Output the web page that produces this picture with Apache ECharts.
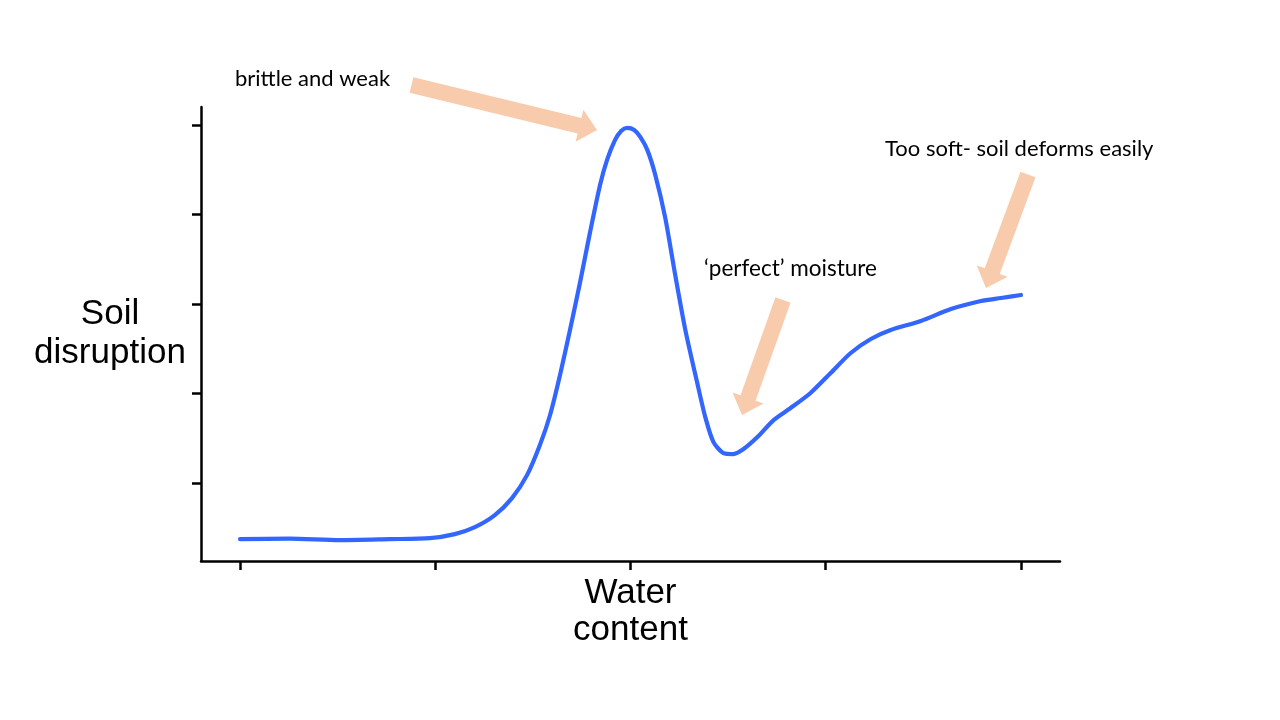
<!DOCTYPE html>
<html>
<head>
<meta charset="utf-8">
<script src="https://cdn.jsdelivr.net/npm/echarts@6/dist/echarts.min.js"></script>
<style>
html,body{margin:0;padding:0;background:#fff;}
#chart{width:1280px;height:720px;}
</style>
</head>
<body>
<div id="chart"></div>
<script>
// Water content (x) values of the curve
var waterContent = [0.00,0.253,0.510,0.766,0.972,1.100,1.203,1.305,1.393,1.470,1.536,1.588,1.639,1.690,1.742,1.793,1.844,1.880,1.921,1.952,1.983,2.019,2.050,2.086,2.127,2.178,2.229,2.281,2.342,2.383,2.425,2.476,2.527,2.579,2.650,2.733,2.820,2.922,3.025,3.128,3.231,3.333,3.487,3.641,3.795,3.898,4.000];
// Soil disruption (y) values of the curve
var soilDisruption = [0.374,0.380,0.363,0.374,0.385,0.430,0.508,0.642,0.832,1.089,1.425,1.760,2.207,2.709,3.246,3.804,4.330,4.609,4.832,4.933,4.966,4.944,4.866,4.721,4.441,3.961,3.324,2.709,2.117,1.737,1.458,1.335,1.324,1.380,1.514,1.704,1.838,2.006,2.229,2.453,2.609,2.709,2.810,2.944,3.034,3.067,3.101];
var xTicks = [0,1,2,3,4];
var yTicks = [1,2,3,4,5];
var xTitle = 'Water\ncontent';
var yTitle = 'Soil\ndisruption';
var annotations = ['brittle and weak', '\u2018perfect\u2019 moisture', 'Too soft- soil deforms easily'];

var points = waterContent.map(function(x,i){return [x, soilDisruption[i]];});

function arrow(x1,y1,x2,y2,sw,hw,hl){
  var dx=x2-x1, dy=y2-y1, L=Math.sqrt(dx*dx+dy*dy);
  var ux=dx/L, uy=dy/L, nx=-uy, ny=ux;
  var bx=x2-ux*hl, by=y2-uy*hl;
  return [
    [x1+nx*sw/2, y1+ny*sw/2],
    [bx+nx*sw/2, by+ny*sw/2],
    [bx+nx*hw/2, by+ny*hw/2],
    [x2, y2],
    [bx-nx*hw/2, by-ny*hw/2],
    [bx-nx*sw/2, by-ny*sw/2],
    [x1-nx*sw/2, y1-ny*sw/2]
  ];
}
var arrowColor = '#F8CBAD';
var annFont = 'Lato, "Open Sans", sans-serif';
var titleFont = '"Liberation Sans", Arial, sans-serif';

var chart = echarts.init(document.getElementById('chart'), null, {renderer:'canvas'});
chart.setOption({
  animation:false,
  backgroundColor:'#ffffff',
  grid:{left:201, right:220, top:107, bottom:159, containLabel:false},
  xAxis:{
    type:'value', min:-0.2, max:4.2,
    name:xTitle, nameLocation:'middle', nameGap:14,
    nameTextStyle:{fontFamily:titleFont, fontSize:35, color:'#000', lineHeight:37, verticalAlign:'top'},
    axisLine:{show:true, onZero:false, lineStyle:{color:'#000', width:2.5}},
    axisTick:{show:true, inside:false, length:9, customValues:xTicks, lineStyle:{color:'#000', width:2.5}},
    axisLabel:{show:false, customValues:xTicks},
    splitLine:{show:false}
  },
  yAxis:{
    type:'value', min:0.13, max:5.2,
    name:yTitle, nameLocation:'middle', nameGap:91, nameRotate:0,
    nameTextStyle:{fontFamily:titleFont, fontSize:35, color:'#000', lineHeight:39, align:'center', verticalAlign:'middle', padding:[8,0,0,0]},
    axisLine:{show:true, onZero:false, lineStyle:{color:'#000', width:2.5}},
    axisTick:{show:true, inside:false, length:9, customValues:yTicks, lineStyle:{color:'#000', width:2.5}},
    axisLabel:{show:false, customValues:yTicks},
    splitLine:{show:false}
  },
  series:[{
    type:'line', data:points, showSymbol:false, smooth:0.25,
    lineStyle:{color:'#3366FF', width:4.2, cap:'round', join:'round'},
    z:3
  }],
  graphic:[
    {type:'polygon', shape:{points:arrow(411.5,85,597,130,16,33,18)}, style:{fill:arrowColor}, z:1},
    {type:'polygon', shape:{points:arrow(783,300,742,415,16,33,18)}, style:{fill:arrowColor}, z:1},
    {type:'polygon', shape:{points:arrow(1028,174.5,986,288,16,33,18)}, style:{fill:arrowColor}, z:1},
    {type:'text', x:235, y:79, style:{text:annotations[0], font:'22px '+annFont, fill:'#000', verticalAlign:'middle'}},
    {type:'text', x:704, y:269, style:{text:annotations[1], font:'22.5px '+annFont, fill:'#000', verticalAlign:'middle'}},
    {type:'text', x:885, y:149, style:{text:annotations[2], font:'22px '+annFont, fill:'#000', verticalAlign:'middle'}}
  ]
});
</script>
</body>
</html>
